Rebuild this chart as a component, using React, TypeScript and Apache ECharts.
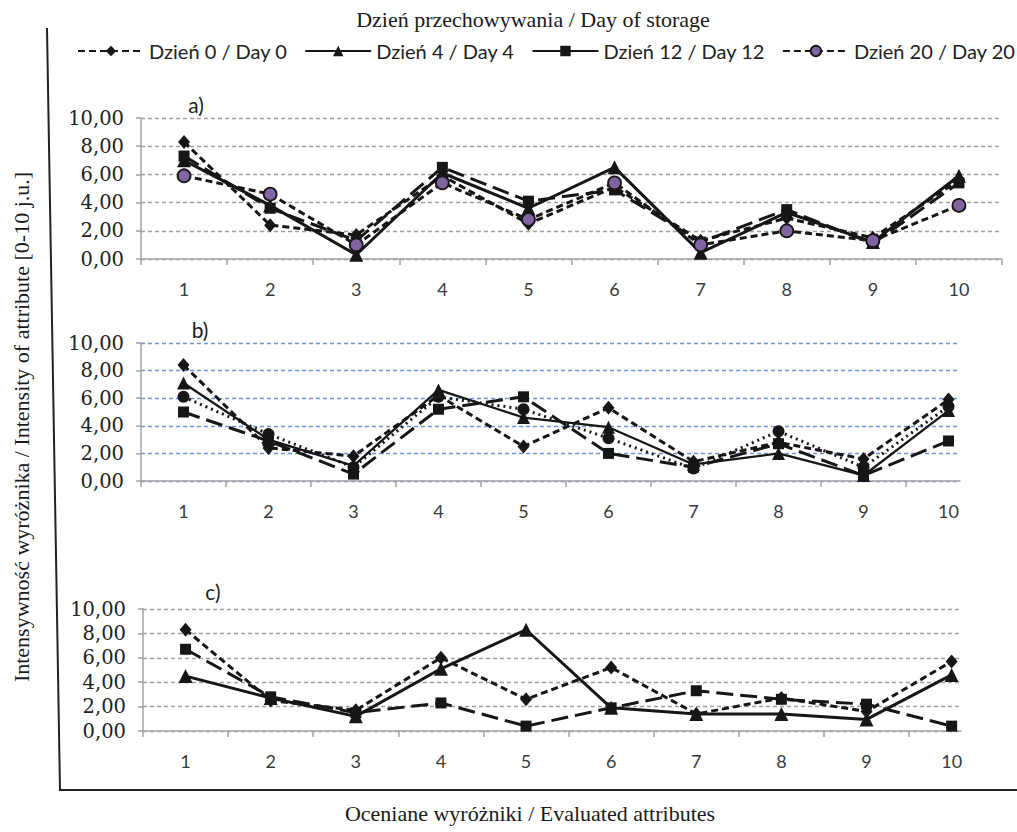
import React, { useEffect, useRef } from "react";
import * as echarts from "echarts";

const categories = [1, 2, 3, 4, 5, 6, 7, 8, 9, 10];
const seriesNames = ["Dzień 0 / Day 0", "Dzień 4 / Day 4", "Dzień 12 / Day 12", "Dzień 20 / Day 20"];

// Panel a
const aDay0 = [8.3, 2.4, 1.7, 5.9, 2.5, 5.1, 1.3, 2.9, 1.5, 5.6];
const aDay4 = [7.0, 3.8, 0.3, 6.1, 3.6, 6.5, 0.45, 3.3, 1.2, 5.9];
const aDay12 = [7.3, 3.6, 1.3, 6.5, 4.1, 4.9, 1.2, 3.5, 1.1, 5.4];
const aDay20 = [5.9, 4.6, 1.0, 5.4, 2.8, 5.4, 1.0, 2.0, 1.3, 3.8];

// Panel b
const bDay0 = [8.4, 2.4, 1.8, 6.2, 2.5, 5.3, 1.4, 2.8, 1.6, 5.9];
const bDay4 = [7.1, 3.0, 1.1, 6.6, 4.6, 3.9, 1.2, 2.0, 0.4, 5.1];
const bDay12 = [5.0, 2.9, 0.5, 5.2, 6.1, 2.0, 1.0, 2.7, 0.4, 2.9];
const bDay20 = [6.1, 3.4, 1.0, 6.1, 5.2, 3.1, 0.9, 3.6, 1.0, 5.4];

// Panel c
const cDay0 = [8.3, 2.5, 1.7, 6.0, 2.6, 5.2, 1.4, 2.7, 1.6, 5.7];
const cDay4 = [4.5, 2.7, 1.2, 5.1, 8.3, 1.9, 1.4, 1.4, 0.95, 4.6];
const cDay12 = [6.7, 2.8, 1.5, 2.3, 0.4, 1.9, 3.3, 2.6, 2.2, 0.4];

const INK = "#161616";
const AXIS = "#a3a3a3";
const SERIF = "'Liberation Serif', 'Times New Roman', serif";
const SANS = "Lato, 'Noto Sans', sans-serif";
const NUMF = "'DejaVu Serif', serif";

const pairs = (vals: number[]) => categories.map((c, i) => [c, vals[i]]);

const fmt = (v: number) => v.toFixed(2).replace(".", ",");

function makeX(gridIndex: number, max: number, lastTick: boolean) {
  const ticks = categories.map((c) => c - 0.5);
  if (lastTick) ticks.push(categories[categories.length - 1] + 0.5);
  return {
    type: "value",
    gridIndex,
    min: 0.5,
    max,
    axisLine: { show: true, lineStyle: { color: AXIS, width: 1.5 } },
    axisTick: { show: true, customValues: ticks, length: 6, lineStyle: { color: AXIS, width: 1.5 } },
    axisLabel: {
      customValues: categories,
      margin: 21,
      fontFamily: SANS,
      fontSize: 18,
      color: "#3a3a3a",
    },
    splitLine: { show: false },
  };
}

function makeY(gridIndex: number, gridColor: string) {
  return {
    type: "value",
    gridIndex,
    min: 0,
    max: 10,
    interval: 2,
    axisLine: { show: true, lineStyle: { color: AXIS, width: 1.5 } },
    axisTick: { show: true, length: 5, lineStyle: { color: AXIS, width: 1.5 } },
    axisLabel: {
      formatter: (v: number) => fmt(v),
      margin: 17,
      fontFamily: NUMF,
      fontSize: 19.5,
      color: "#222",
    },
    splitLine: { show: true, lineStyle: { color: gridColor, width: 1.3, type: [4, 3] } },
  };
}

const SHORT = [7, 4];
const LONG = [17, 7];

function lineSeries(
  name: string,
  idx: number,
  vals: number[],
  lineType: any,
  symbol: string,
  symbolSize: any,
  fill: string,
  width = 3
) {
  return {
    type: "line",
    name,
    xAxisIndex: idx,
    yAxisIndex: idx,
    data: pairs(vals),
    symbol,
    symbolSize,
    showAllSymbol: true,
    lineStyle: { color: INK, width, type: lineType },
    itemStyle: { color: fill, borderColor: INK, borderWidth: fill === INK ? 0 : 1.8 },
  };
}

export default function App() {
  const ref = useRef<HTMLDivElement>(null);

  useEffect(() => {
    if (!ref.current) return;
    const chart = echarts.init(ref.current, null, { renderer: "svg" });
    const option: any = {
      animation: false,
      backgroundColor: "#ffffff",
      legend: {
        left: 72,
        top: 36,
        width: 945,
        itemWidth: 66,
        itemHeight: 13,
        itemGap: 17,
        textStyle: { fontFamily: SANS, fontSize: 20, color: "#222" },
        data: [
          { name: seriesNames[0] },
          { name: seriesNames[1] },
          { name: seriesNames[2], lineStyle: { type: "solid" } },
          { name: seriesNames[3] },
        ],
      },
      grid: [
        { left: 141, top: 118, width: 861, height: 141 },
        { left: 141, top: 343, width: 819, height: 138 },
        { left: 143, top: 609, width: 818, height: 122 },
      ],
      xAxis: [makeX(0, 10.5, true), makeX(1, 10.135, false), makeX(2, 10.11, false)],
      yAxis: [makeY(0, "#a0a0a0"), makeY(1, "#6f95cf"), makeY(2, "#a0a0a0")],
      series: [
        lineSeries(seriesNames[0], 0, aDay0, SHORT, "diamond", [12, 14], INK),
        lineSeries(seriesNames[1], 0, aDay4, "solid", "triangle", 14, INK),
        lineSeries(seriesNames[2], 0, aDay12, LONG, "rect", 11, INK),
        lineSeries(seriesNames[3], 0, aDay20, SHORT, "circle", 13, "#8064a2"),

        lineSeries(seriesNames[0], 1, bDay0, SHORT, "diamond", [12, 14], INK),
        lineSeries(seriesNames[1], 1, bDay4, "solid", "triangle", 13, INK, 2.3),
        lineSeries(seriesNames[2], 1, bDay12, LONG, "rect", 11, INK),
        lineSeries(seriesNames[3], 1, bDay20, [2, 4], "circle", 12, INK),

        lineSeries(seriesNames[0], 2, cDay0, SHORT, "diamond", [12, 14], INK),
        lineSeries(seriesNames[1], 2, cDay4, "solid", "triangle", 14, INK),
        lineSeries(seriesNames[2], 2, cDay12, LONG, "rect", 11, INK),
      ],
      graphic: [
        {
          type: "polyline",
          shape: { points: [[47, 28], [60, 790], [1017, 790]] },
          style: { stroke: "#222", lineWidth: 2, fill: "none" },
          silent: true,
        },
        {
          type: "text",
          x: 533,
          y: 19,
          style: {
            text: "Dzień przechowywania / Day of storage",
            font: `22px ${SERIF}`,
            fill: "#1a1a1a",
            textAlign: "center",
            textVerticalAlign: "middle",
          },
        },
        {
          type: "text",
          x: 530,
          y: 813,
          style: {
            text: "Oceniane wyróżniki / Evaluated attributes",
            font: `22px ${SERIF}`,
            fill: "#1a1a1a",
            textAlign: "center",
            textVerticalAlign: "middle",
          },
        },
        {
          type: "text",
          x: 21,
          y: 427,
          rotation: Math.PI / 2,
          style: {
            text: "Intensywność wyróżnika / Intensity of attribute [0-10 j.u.]",
            font: `22px ${SERIF}`,
            fill: "#1a1a1a",
            textAlign: "center",
            textVerticalAlign: "middle",
          },
        },
        {
          type: "text",
          x: 196,
          y: 104,
          style: { text: "a)", font: `21px ${SANS}`, fill: "#222", textAlign: "center", textVerticalAlign: "middle" },
        },
        {
          type: "text",
          x: 200,
          y: 329,
          style: { text: "b)", font: `21px ${SANS}`, fill: "#222", textAlign: "center", textVerticalAlign: "middle" },
        },
        {
          type: "text",
          x: 213,
          y: 591,
          style: { text: "c)", font: `21px ${SANS}`, fill: "#222", textAlign: "center", textVerticalAlign: "middle" },
        },
      ],
    };
    chart.setOption(option);
    return () => chart.dispose();
  }, []);

  return (
    <div
      ref={ref}
      style={{ position: "absolute", left: 0, top: 0, width: 1017, height: 832 }}
    />
  );
}
